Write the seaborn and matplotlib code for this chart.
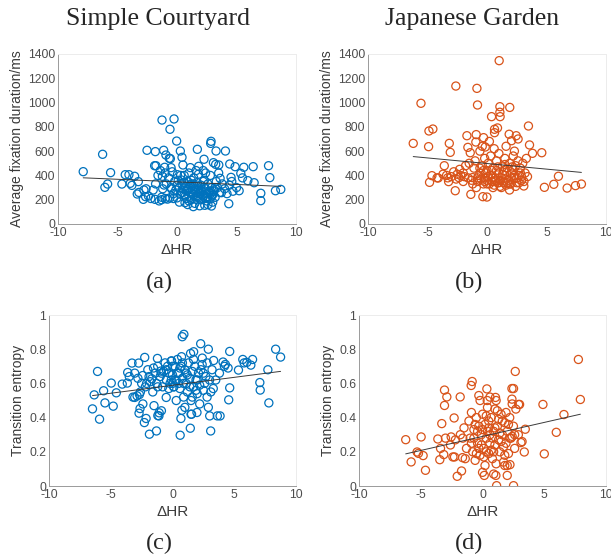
import numpy as np
import pandas as pd
import matplotlib
matplotlib.use('Agg')
import matplotlib.pyplot as plt
import seaborn as sns
from matplotlib.ticker import FuncFormatter

# =============================================================================
# Data
# =============================================================================

# (a) Simple Courtyard - average fixation duration
a_x = [-7.88, -6.25, -6.06, -5.83, -5.58, -4.63, -4.35, -4.04, -3.93, -3.79, -3.56, -3.34, -3.25,
       -2.78, -2.83, -2.64, -2.52, -1.82, -1.88, -1.77, -1.85, -1.26, -1.12, -1.04, -1.23, -1.09,
       -1.29, -0.93, -0.65, -0.59, -0.56, -0.45, -0.25, -0.03, 0.28, 0.42, 0.50, -0.50, 0.03, 0.39,
       0.67, 1.37, 1.71, 1.12, 1.82, 2.27, 2.83, 2.86, 3.06, 3.25, 2.89, 2.33, 3.28, 3.51, 3.62,
       3.73, 4.07, 4.43, 4.35, 4.54, 4.88, 5.22, 5.36, 5.61, 5.95, 6.40, 6.48, 7.04, 7.04, 7.69,
       7.80, 8.27, 8.72,
       -2.4, -2.2, -2.0, -1.5, -1.3, -1.0, -0.8, -0.6, -0.3, 0.0, -1.6, -1.4, -1.0, -0.7, -0.4,
       -0.2, 0.1, 0.2, 0.3, 0.4, 0.5, 0.6, 0.7, 0.8, 0.9, 1.0, 1.0, 1.1, 1.2, 1.2, 1.3, 1.4, 1.4,
       1.5, 1.5, 1.6, 1.7, 1.7, 1.8, 1.9, 2.0, 2.0, 2.1, 2.2, 2.3, 2.4, 2.5, 2.5, 2.6, 2.7, 2.8,
       2.9, 3.0, 3.0, 3.1, 3.2, 3.3, 3.4, 3.6, 3.8, 4.0, 4.2, 4.4, 4.6, 5.0, 0.6, 1.0, 1.8, 2.2,
       2.8, 3.5, -0.5, -1.8, -2.6, -3.2, 0.2, 0.9, 1.9, 2.6, -1.2, -0.9, 0.3, 1.6, 2.4, 4.7, 5.5,
       0.4, 0.7, 0.9, 1.1, 1.3, 1.5, 1.7, 1.9, 2.1, 2.3, 2.5, 2.7, 2.9, 3.1, 0.6, 0.8, 1.2, 1.6,
       2.0, 2.4, 2.8, 3.2, 1.0, 1.4, 1.8, 2.2, 2.6, -0.1, -0.3, 0.0]
a_y = [431, 574, 302, 329, 423, 329, 406, 406, 335, 318, 393, 247, 349,
       280, 203, 225, 607, 596, 480, 480, 203, 856, 607, 467, 393, 321,
       220, 568, 541, 780, 538, 288, 865, 683, 601, 549, 486, 464, 406, 362,
       176, 143, 615, 464, 475, 533, 664, 681, 505, 491, 148, 154, 601, 486, 376,
       258, 601, 494, 167, 384, 472, 274, 417, 467, 357, 472, 340, 253, 192, 480,
       382, 274, 285,
       230, 210, 280, 190, 200, 210, 205, 215, 210, 215, 400, 440, 420, 380, 430,
       350, 360, 300, 250, 330, 290, 240, 310, 270, 350, 230, 300, 260, 330, 200, 280, 240, 380,
       310, 170, 260, 220, 340, 290, 250, 200, 320, 270, 230, 360, 290, 250, 190, 330, 270, 210,
       300, 240, 180, 280, 220, 350, 300, 260, 330, 290, 250, 320, 350, 300, 400, 420, 410, 440,
       400, 420, 300, 330, 290, 260, 180, 160, 150, 160, 290, 330, 400, 440, 420, 270, 380,
       260, 230, 280, 320, 250, 290, 200, 270, 240, 300, 220, 260, 230, 270, 340, 210, 360, 230,
       280, 210, 250, 300, 190, 330, 230, 350, 220, 280, 250, 320]

# (b) Japanese Garden - average fixation duration
b_x = [-6.2, -5.55, -4.91, -4.88, -4.83, -4.55, -4.63, -4.1, -3.59, -3.17, -3.09, -3.23,
       -2.62, -2.67, -2.36, -2.2, -1.69, -1.61, -1.36, -1.41, -1.22, -0.94, -0.85, -0.8, -0.91,
       -0.29, -0.35, -0.01, -0.15, 0.38, 0.63, 0.63, 0.88, 1.02, 1.08, 1.08, 1.10, 1.91, 1.86,
       2.06, 2.45, 2.61, 3.48, 3.57, 3.82, 4.6, 4.82, 5.61, 6.0, 6.73, 7.43, 7.93, 3.09, 1.89,
       -3.4, -3.0, -2.8, -2.5, -2.3, -2.0, -1.8, -1.5, -1.3, -1.1, -1.0, -0.8, -0.7, -0.6, -0.5,
       -0.4, -0.3, -0.2, -0.1, 0.0, 0.1, 0.2, 0.3, 0.3, 0.4, 0.5, 0.6, 0.6, 0.7, 0.8, 0.9, 1.0,
       1.0, 1.1, 1.2, 1.3, 1.4, 1.5, 1.5, 1.6, 1.7, 1.8, 1.9, 2.0, 2.1, 2.2, 2.3, 2.4, 2.5, 2.6,
       2.7, 2.8, 2.9, 3.0, 3.2, 3.4, 3.3, -2.0, -1.6, -0.9, 0.5, 1.2, 2.4, -0.4, 0.2, 1.6, 2.3,
       -3.7, -4.2, 0.0, 0.8, 1.4, -0.2, 2.0, 2.7,
       -1.2, -0.8, -0.5, -0.2, 0.1, 0.4, 0.7, 1.0, 1.3, 1.6, 1.9, 2.2, 2.5, 2.8, 3.1, -0.6, 0.0,
       0.5, 1.1, 1.7, 2.3, 2.9, -1.9, -2.6, -3.3, 0.9, 1.5, 2.1, -0.3, 0.6]
b_y = [664, 994, 637, 766, 343, 782, 398, 379, 480, 664, 590, 349,
       1136, 274, 382, 398, 727, 631, 244, 587, 382, 675, 1117, 980, 736,
       711, 225, 222, 634, 884, 780, 752, 791, 1345, 966, 920, 884, 960, 739,
       686, 727, 700, 807, 651, 582, 587, 302, 327, 393, 296, 316, 329, 313, 280,
       400, 390, 430, 410, 450, 420, 480, 500, 360, 460, 520, 350, 400, 600, 370,
       480, 330, 540, 420, 360, 500, 330, 560, 400, 350, 460, 320, 620, 380, 520, 340, 420,
       580, 310, 380, 470, 340, 540, 400, 320, 460, 360, 500, 330, 420, 560, 380, 480, 340, 520,
       400, 460, 360, 500, 420, 390, 540, 350, 380, 300, 300, 300, 310, 640, 680, 640, 600,
       410, 380, 440, 440, 440, 380, 380, 340,
       330, 380, 420, 350, 390, 440, 360, 340, 410, 370, 330, 450, 380, 420, 350, 460, 330,
       380, 360, 340, 400, 390, 390, 370, 380, 470, 490, 470, 440, 350]

# (c) Simple Courtyard - transition entropy
c_x = [-6.48, -6.34, -6.07, -5.91, -5.58, -5.47, -4.8, -4.96, -4.55, -4.07, -3.66, -3.63,
       -3.28, -3.06, -3.06, -2.87, -2.71, -2.63, -2.68, -2.74, -2.25, -2.41, -2.28, -2.14,
       -1.87, -1.68, -1.54, -1.3, -1.19, -1.08, -1.22, -0.95, -0.51, 0.62, -0.08, 0.73, 0.79,
       0.92, 0.68, 0.76, 1.44, 1.46, 1.71, 1.54, 1.98, 2.28, 2.41, 2.9, 3.01, 3.09, 3.63, 3.85,
       3.33, 4.09, 4.28, 4.63, 4.63, 4.55, 5.34, 5.69, 6.02, 6.48, 6.34, 7.07, 7.1, 7.72, 7.8,
       8.35, 8.75,
       -2.8, -2.5, -2.2, -2.0, -1.8, -1.6, -1.4, -1.2, -1.0, -0.8, -0.7, -0.5, -0.4, -0.2, -0.1,
       0.0, 0.1, 0.2, 0.3, 0.4, 0.5, 0.6, 0.7, 0.8, 0.9, 1.0, 1.1, 1.2, 1.3, 1.4, 1.5, 1.6, 1.7,
       1.8, 1.9, 2.0, 2.1, 2.2, 2.4, 2.5, 2.7, 2.8, 3.0, 3.1, 3.2, 3.5, 3.8, 4.2, -3.2, -2.4,
       -1.5, -0.9, 0.3, 1.0, 2.2, 2.9, -1.1, 0.1, -0.3, 1.5, 2.6, 4.5, 5.8,
       -1.3, -0.9, -0.6, -0.3, 0.0, 0.2, 0.5, 0.8, 1.1, 1.4, 1.7, 2.0, 2.3, -2.6, -1.9, -1.2,
       -0.5, 0.4, 0.9, 1.6, 2.5, 3.3, -3.5, -0.1, 0.6, 1.2, 1.9, -2.1, 2.8, 0.0]
c_y = [0.451, 0.533, 0.67, 0.391, 0.557, 0.486, 0.467, 0.602, 0.545, 0.596, 0.602, 0.664,
       0.719, 0.66, 0.518, 0.527, 0.426, 0.453, 0.535, 0.719, 0.752, 0.646, 0.371, 0.395,
       0.303, 0.627, 0.69, 0.322, 0.412, 0.428, 0.746, 0.672, 0.518, 0.297, 0.732, 0.756, 0.873,
       0.887, 0.395, 0.443, 0.338, 0.775, 0.785, 0.42, 0.43, 0.832, 0.748, 0.8, 0.41, 0.322, 0.41, 0.41,
       0.734, 0.725, 0.711, 0.787, 0.574, 0.504, 0.678, 0.74, 0.723, 0.74, 0.707, 0.605, 0.561, 0.68, 0.486,
       0.8, 0.754,
       0.63, 0.60, 0.58, 0.68, 0.61, 0.55, 0.66, 0.70, 0.64, 0.58, 0.67, 0.62, 0.70, 0.60, 0.73,
       0.65, 0.58, 0.70, 0.62, 0.74, 0.66, 0.57, 0.70, 0.63, 0.52, 0.68, 0.60, 0.55, 0.72, 0.63, 0.50, 0.67, 0.58,
       0.70, 0.62, 0.54, 0.66, 0.59, 0.71, 0.56, 0.64, 0.52, 0.62, 0.55, 0.68, 0.62, 0.66, 0.70, 0.52, 0.48,
       0.47, 0.44, 0.50, 0.46, 0.48, 0.46, 0.41, 0.58, 0.57, 0.42, 0.60, 0.69, 0.72,
       0.60, 0.66, 0.72, 0.66, 0.70, 0.62, 0.60, 0.72, 0.66, 0.58, 0.74, 0.62, 0.68, 0.55, 0.64, 0.58,
       0.68, 0.66, 0.60, 0.52, 0.66, 0.57, 0.64, 0.62, 0.69, 0.65, 0.56, 0.60, 0.72, 0.60]

# (d) Japanese Garden - transition entropy
d_x = [-6.22, -5.78, -5.3, -5.19, -4.97, -4.81, -4.62, -3.62, -3.46, -3.3, -3.14, -3.08, -3.08,
       -2.89, -2.54, -2.3, -2.27, -2.05, -1.81, -1.7, -1.62, -0.84, -0.92, -0.3, 0.14, 0.35, 0.38,
       1.05, 1.08, 1.14, 2.0, 2.22, 2.51, 2.38, 2.51, 2.65, 2.38, 2.92, 3.0, 3.11, 3.38, 3.46,
       4.89, 5.0, 5.97, 6.59, 7.76, 7.92,
       -3.0, -2.6, -2.2, -1.8, -1.5, -1.3, -1.1, -1.0, -0.9, -0.8, -0.7, -0.6, -0.5, -0.4, -0.3,
       -0.2, -0.1, 0.0, 0.1, 0.2, 0.2, 0.3, 0.4, 0.5, 0.5, 0.6, 0.7, 0.8, 0.9, 1.0, 1.0, 1.1, 1.2,
       1.3, 1.4, 1.5, 1.6, 1.7, 1.8, 1.9, 2.0, 2.1, 2.2, 2.3, 2.4, 2.5, 2.6, 2.7, 2.9, 3.2, -0.2,
       0.6, 1.1, -1.4, 0.0, 0.9, 1.8, -0.4, 0.3, 1.6, 2.0,
       -0.9, -0.6, -0.3, 0.0, 0.3, 0.6, 0.9, 1.2, 1.5, 1.8, 2.1, 2.4, -0.7, -0.1, 0.4, 0.8, 1.3,
       1.7, 2.2, -1.6, -2.4, -3.4, 0.1, 0.7, 1.0, 1.4, -0.5, 2.6, 0.5, 1.9]
d_y = [0.271, 0.141, 0.199, 0.191, 0.287, 0.178, 0.092, 0.275, 0.154, 0.365, 0.184, 0.561, 0.471,
       0.521, 0.287, 0.398, 0.17, 0.057, 0.521, 0.088, 0.166, 0.611, 0.588, 0.529, 0.062, 0.568, 0.5,
       0.518, 0.062, 0.002, 0.062, 0.125, 0.002, 0.57, 0.57, 0.67, 0.508, 0.477, 0.477, 0.254, 0.199, 0.332,
       0.477, 0.188, 0.314, 0.418, 0.74, 0.506,
       0.28, 0.24, 0.27, 0.30, 0.34, 0.22, 0.38, 0.28, 0.43, 0.20, 0.33, 0.15, 0.40, 0.25, 0.35,
       0.18, 0.30, 0.42, 0.22, 0.36, 0.12, 0.28, 0.46, 0.19, 0.38, 0.25, 0.40, 0.16, 0.32, 0.24, 0.45, 0.13, 0.35,
       0.27, 0.20, 0.42, 0.30, 0.14, 0.37, 0.25, 0.32, 0.19, 0.40, 0.28, 0.48, 0.35, 0.22, 0.45, 0.30, 0.26, 0.50,
       0.52, 0.50, 0.16, 0.08, 0.07, 0.12, 0.32, 0.20, 0.38, 0.12,
       0.25, 0.36, 0.22, 0.33, 0.41, 0.30, 0.20, 0.44, 0.26, 0.18, 0.36, 0.29, 0.28, 0.24, 0.32, 0.28, 0.39,
       0.23, 0.28, 0.28, 0.17, 0.22, 0.17, 0.21, 0.34, 0.31, 0.19, 0.30, 0.34, 0.43]

# linear fit lines (slope, intercept)
fit_a = (-4.24, 347.0)
fit_b = (-9.22, 498.0)
fit_c = (0.0093, 0.589)
fit_d = (0.0164, 0.290)

titles = ['Simple Courtyard', 'Japanese Garden']
captions = ['(a)', '(b)', '(c)', '(d)']
ylabels = ['Average fixation duration/ms', 'Transition entropy']

# =============================================================================
# Plot
# =============================================================================
sns.set_theme(style='white')
plt.rcParams['font.family'] = ['Liberation Sans', 'DejaVu Sans']
plt.rcParams['axes.unicode_minus'] = False

blue = '#0072BD'
orange = '#D95319'
tick_col = '#4d4d4d'

fig = plt.figure(figsize=(6.11, 5.6), dpi=100)
ax_a = fig.add_axes([0.0949, 0.600, 0.3896, 0.3036])
ax_b = fig.add_axes([0.6023, 0.600, 0.3896, 0.3036])
ax_c = fig.add_axes([0.0802, 0.1321, 0.4043, 0.3054])
ax_d = fig.add_axes([0.5876, 0.1321, 0.4043, 0.3054])

panels = [
    (ax_a, a_x, a_y, fit_a, blue, 0),
    (ax_b, b_x, b_y, fit_b, orange, 0),
    (ax_c, c_x, c_y, fit_c, blue, 1),
    (ax_d, d_x, d_y, fit_d, orange, 1),
]

for ax, xs, ys, fit, col, row in panels:
    df = pd.DataFrame({'dHR': xs, 'val': ys})
    sns.scatterplot(data=df, x='dHR', y='val', ax=ax, marker='o', s=34,
                    facecolor='none', edgecolor=col, linewidth=0.9)
    xl = np.array([df['dHR'].min(), df['dHR'].max()])
    ax.plot(xl, fit[0] * xl + fit[1], color='#3a3a3a', lw=0.7)

    ax.set_xlim(-10, 10)
    ax.set_xticks([-10, -5, 0, 5, 10])
    if row == 0:
        ax.set_ylim(0, 1400)
        ax.set_yticks(range(0, 1401, 200))
    else:
        ax.set_ylim(0, 1)
        ax.set_yticks([0, 0.2, 0.4, 0.6, 0.8, 1.0])
        ax.yaxis.set_major_formatter(FuncFormatter(lambda v, p: '%g' % v))
    ax.set_xlabel('\u0394HR', fontsize=11, color='#3a3a3a', labelpad=3)
    ax.set_ylabel(ylabels[row], fontsize=10, color='#3a3a3a', labelpad=3)
    ax.tick_params(axis='both', labelsize=8.7, colors=tick_col, direction='in',
                   length=3, width=0.6, pad=2)
    for side in ['left', 'bottom']:
        ax.spines[side].set_color('#9a9a9a')
        ax.spines[side].set_linewidth(0.7)
    for side in ['top', 'right']:
        ax.spines[side].set_color('#ececec')
        ax.spines[side].set_linewidth(0.7)

# titles and captions (serif)
serif = ['Liberation Serif', 'DejaVu Serif']
fig.text(158 / 611, 1 - 19 / 560, titles[0], ha='center', va='center', fontsize=18.5, family=serif)
fig.text(472 / 611, 1 - 19 / 560, titles[1], ha='center', va='center', fontsize=18.5, family=serif)
cap_pos = [(159, 282), (469, 282), (159, 543), (469, 543)]
for (px, py), cap in zip(cap_pos, captions):
    fig.text(px / 611, 1 - py / 560, cap, ha='center', va='center', fontsize=17.5, family=serif)

plt.savefig('out.png', dpi=100)
